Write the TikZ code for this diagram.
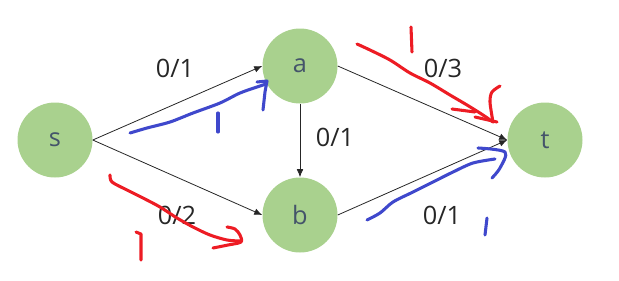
\documentclass[tikz,border=0pt]{standalone}
\usepackage{fontspec}
\usepackage{xcolor}
\usepackage{tikz}
\usetikzlibrary{arrows.meta, positioning, calc}
\newfontfamily\netfont{Open Sans}
\definecolor{nodegreen}{HTML}{A9D18E}
\definecolor{nodetext}{HTML}{44546A}
\definecolor{penred}{HTML}{ED1C24}
\definecolor{penblue}{HTML}{3F48CC}

\begin{document}
\begin{tikzpicture}[
    x=0.75pt, y=-0.75pt,
    every node/.style={font=\netfont\fontsize{19}{22}\selectfont, align=center},
    vtx/.style={circle, fill=nodegreen, text=nodetext, inner sep=0pt, minimum size=56.25pt},
    flow/.style={text=black!85},
    arr/.style={-{Latex[length=6pt, width=5pt]}, line width=0.6pt, black!85},
    redpen/.style={draw=penred, line width=2.3pt, line cap=round, line join=round},
    bluepen/.style={draw=penblue, line width=2.3pt, line cap=round, line join=round}
  ]
    \useasboundingbox (0,0) rectangle (619,280);

    % vertices
    \node[vtx] (s) at (55,140) {s};
    \node[vtx] (a) at (300,66) {a};
    \node[vtx] (b) at (300,215) {b};
    \node[vtx] (t) at (545,140) {t};

    % edges
    \draw[arr] (s.east) -- (a.west);
    \draw[arr] (s.east) -- (b.west);
    \draw[arr] (a.south) -- (b.north);
    \draw[arr] (a.east) -- (t.west);
    \draw[arr] (b.east) -- (t.west);

    % flow / capacity
    \node[flow] (fsa) at (175,68) {0/1};
    \node[flow] (fsb) at (177,215) {0/2};
    \node[flow] (fab) at (335,137) {0/1};
    \node[flow] (fat) at (443,68) {0/3};
    \node[flow] (fbt) at (442,215) {0/1};

    % red path s -> b, a -> t
    \draw[redpen] plot[smooth] coordinates {(110,175) (112,182) (127,190) (143,198) (160,207)
      (177,218) (193,227) (210,235) (227,240) (240,241)};
    \draw[redpen] plot[smooth] coordinates {(213,248) (228,245) (241,242) (240,235) (235,229) (227,227)};
    \draw[redpen] (136,232) -- (141,234) -- (141,260);
    \draw[redpen] plot[smooth] coordinates {(357,44) (370,50) (390,60) (410,73) (430,83)
      (450,95) (467,105) (483,115) (493,122)};
    \draw[redpen] (452,109) -- (475,112);
    \draw[redpen] (475,117) -- (497,122);
    \draw[redpen] plot[smooth] coordinates {(493,122) (490,102) (492,92) (500,86)};
    \draw[redpen] (411,27) -- (412,52);

    % blue path s -> a, b -> t
    \draw[bluepen] plot[smooth] coordinates {(130,133) (147,128) (170,122) (193,113) (220,103)
      (240,93) (260,86) (266,84)};
    \draw[bluepen] (257,82) -- (267,81) -- (265,92) -- (263,110);
    \draw[bluepen] (218,113) -- (218,132);
    \draw[bluepen] plot[smooth] coordinates {(367,220) (380,213) (393,202) (413,192) (433,182)
      (453,172) (473,163) (495,159)};
    \draw[bluepen] plot[smooth] coordinates {(478,148) (505,152) (500,168) (492,178)};
    \draw[bluepen] (487,218) -- (485,235);
  \end{tikzpicture}
\end{document}
